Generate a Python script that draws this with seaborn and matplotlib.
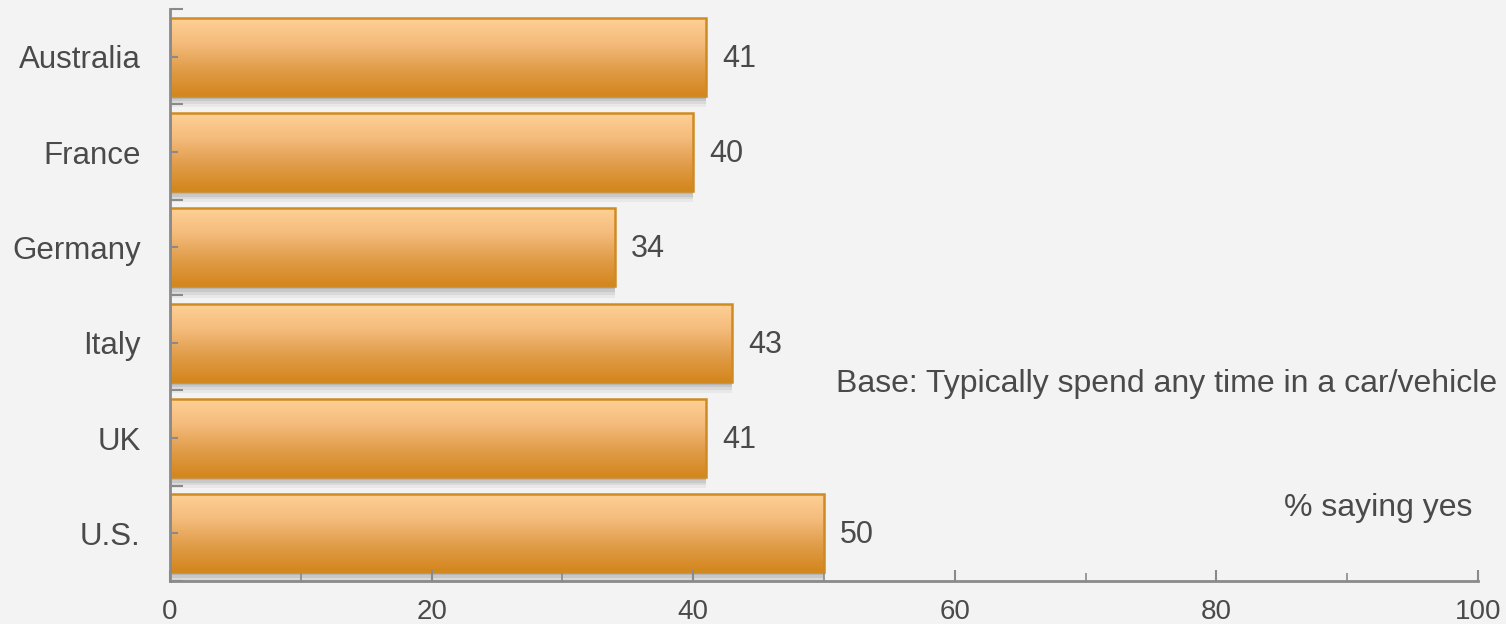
import numpy as np
import pandas as pd
import matplotlib
matplotlib.use("Agg")
import matplotlib.pyplot as plt
import seaborn as sns
from matplotlib.colors import LinearSegmentedColormap
from matplotlib.patches import Rectangle
import matplotlib.patheffects as pe
from matplotlib.ticker import FixedLocator, MultipleLocator

countries = ["Australia", "France", "Germany", "Italy", "UK", "U.S."]
values = [41, 40, 34, 43, 41, 50]
x_ticks = [0, 20, 40, 60, 80, 100]
note_base = "Base: Typically spend any time in a car/vehicle"
note_unit = "% saying yes"

sns.set_theme(style="white")
plt.rcParams['font.family'] = ['Liberation Sans', 'DejaVu Sans']

BG = "#F3F3F3"
TXT = "#4A4A4A"
AXC = "#8A8A8A"

fig = plt.figure(figsize=(15.06, 6.24), dpi=100, facecolor=BG)
ax = fig.add_axes([170/1506, 1-581/624, (1478-170)/1506, (581-9)/624])
ax.set_facecolor(BG)

df = pd.DataFrame({"country": countries, "value": values})
sns.barplot(data=df, x="value", y="country", orient="h", ax=ax,
            color="#E8A050", width=0.82, saturation=1)

cmap = LinearSegmentedColormap.from_list(
    "bar", ["#FFD196", "#F4BB7C", "#E09C48", "#D4861C"])
grad = np.linspace(0, 1, 256).reshape(-1, 1)

shadow = [pe.SimplePatchShadow(offset=(0, -k), shadow_rgbFace="#707070", alpha=a)
          for k, a in [(8, 0.08), (6, 0.12), (4, 0.16), (2, 0.2)]]

for p in list(ax.patches):
    x0, y0 = p.get_x(), p.get_y()
    w, h = p.get_width(), p.get_height()
    p.set_facecolor("#D4861C")
    p.set_edgecolor("none")
    p.set_zorder(1)
    p.set_path_effects(shadow + [pe.Normal()])
    im = ax.imshow(grad, cmap=cmap, aspect="auto", extent=[x0, x0 + w, y0 + h, y0],
                   zorder=1.5, interpolation="bilinear")
    im.set_clip_path(p)
    edge = Rectangle((x0, y0), w, h, facecolor="none", edgecolor="#D08A22",
                     linewidth=1.8, zorder=2)
    ax.add_patch(edge)

for i, v in enumerate(values):
    ax.text(v + 1.2, i + 0.02, str(v), va="center", ha="left", fontsize=22, color=TXT)

ax.set_xlim(0, 100)
ax.set_ylim(len(countries) - 0.5, -0.5)
ax.set_xticks(x_ticks)
ax.xaxis.set_minor_locator(MultipleLocator(10))
ax.yaxis.set_minor_locator(FixedLocator(np.arange(-0.5, len(countries), 1.0)))
ax.set_xlabel("")
ax.set_ylabel("")
ax.set_axisbelow(False)

for s in ["top", "right"]:
    ax.spines[s].set_visible(False)
for s in ["left", "bottom"]:
    ax.spines[s].set_color(AXC)
    ax.spines[s].set_linewidth(2)
    ax.spines[s].set_zorder(3)

ax.tick_params(axis="x", which="major", direction="in", length=8, width=1.5,
               color=AXC, labelsize=20, labelcolor=TXT, pad=13, bottom=True)
ax.tick_params(axis="x", which="minor", direction="in", length=6, width=1.2,
               color=AXC, bottom=True)
ax.tick_params(axis="y", which="major", direction="in", length=6, width=1.5,
               color=AXC, labelsize=22.5, labelcolor=TXT, pad=21, left=True)
ax.tick_params(axis="y", which="minor", direction="in", length=9, width=1.5,
               color=AXC, left=True)

fig.text(1497/1506, 1-384/624, note_base, ha="right", va="center", fontsize=23, color=TXT)
fig.text(1472/1506, 1-508/624, note_unit, ha="right", va="center", fontsize=23, color=TXT)

fig.savefig("out.png", dpi=100, facecolor=BG)
